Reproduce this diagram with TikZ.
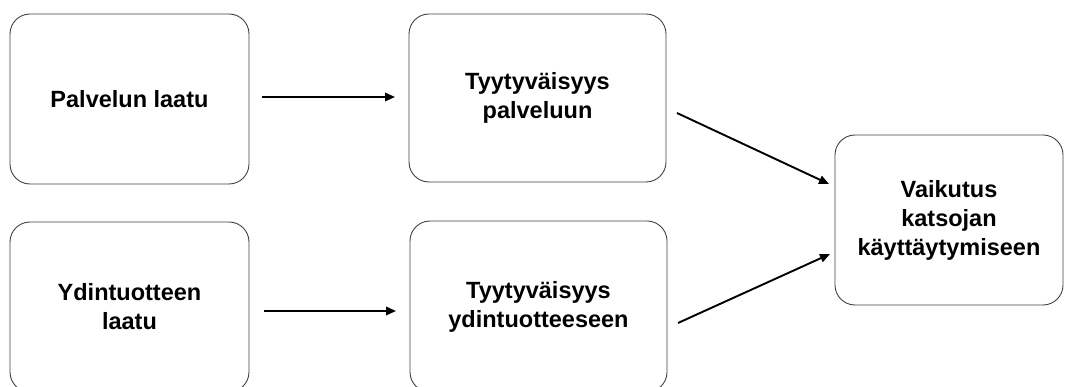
\documentclass[tikz,border=0pt]{standalone}
\usepackage{fontspec}
\setmainfont{Liberation Sans}
\usetikzlibrary{arrows.meta}
\begin{document}
\begin{tikzpicture}[x=1pt,y=-1pt,
  box/.style={draw=black!75,line width=0.9pt,rounded corners=20pt,
    minimum width=#1,align=center,inner sep=0pt,
    font=\fontsize{23.5}{29}\selectfont\bfseries},
  link/.style={line width=1.9pt,-{Triangle[length=10pt,width=8.5pt]}}]
\useasboundingbox (0,0) rectangle (1080,387);
\clip (0,0) rectangle (1080,387);
\node[box=239pt,minimum height=170pt] (pq) at (129.5,99) {Palvelun laatu};
\node[box=239pt,minimum height=170pt] (cq) at (129.5,307) {Ydintuotteen\\laatu};
\node[box=257pt,minimum height=168pt] (ps) at (537.5,98) {Tyytyväisyys\\palveluun};
\node[box=257pt,minimum height=171pt] (cs) at (538.5,306.5) {Tyytyväisyys\\ydintuotteeseen};
\node[box=228pt,minimum height=170pt] (ef) at (949,220) {Vaikutus\\katsojan\\käyttäytymiseen};
\coordinate (a1s) at (262,97);   \coordinate (a1e) at (395,97);
\coordinate (a2s) at (264,311);  \coordinate (a2e) at (396,311);
\coordinate (a3s) at (677,113);  \coordinate (a3e) at (829,184);
\coordinate (a4s) at (678,323);  \coordinate (a4e) at (830,254);
\draw[link] (a1s) -- (a1e);
\draw[link] (a2s) -- (a2e);
\draw[link] (a3s) -- (a3e);
\draw[link] (a4s) -- (a4e);
\end{tikzpicture}
\end{document}
